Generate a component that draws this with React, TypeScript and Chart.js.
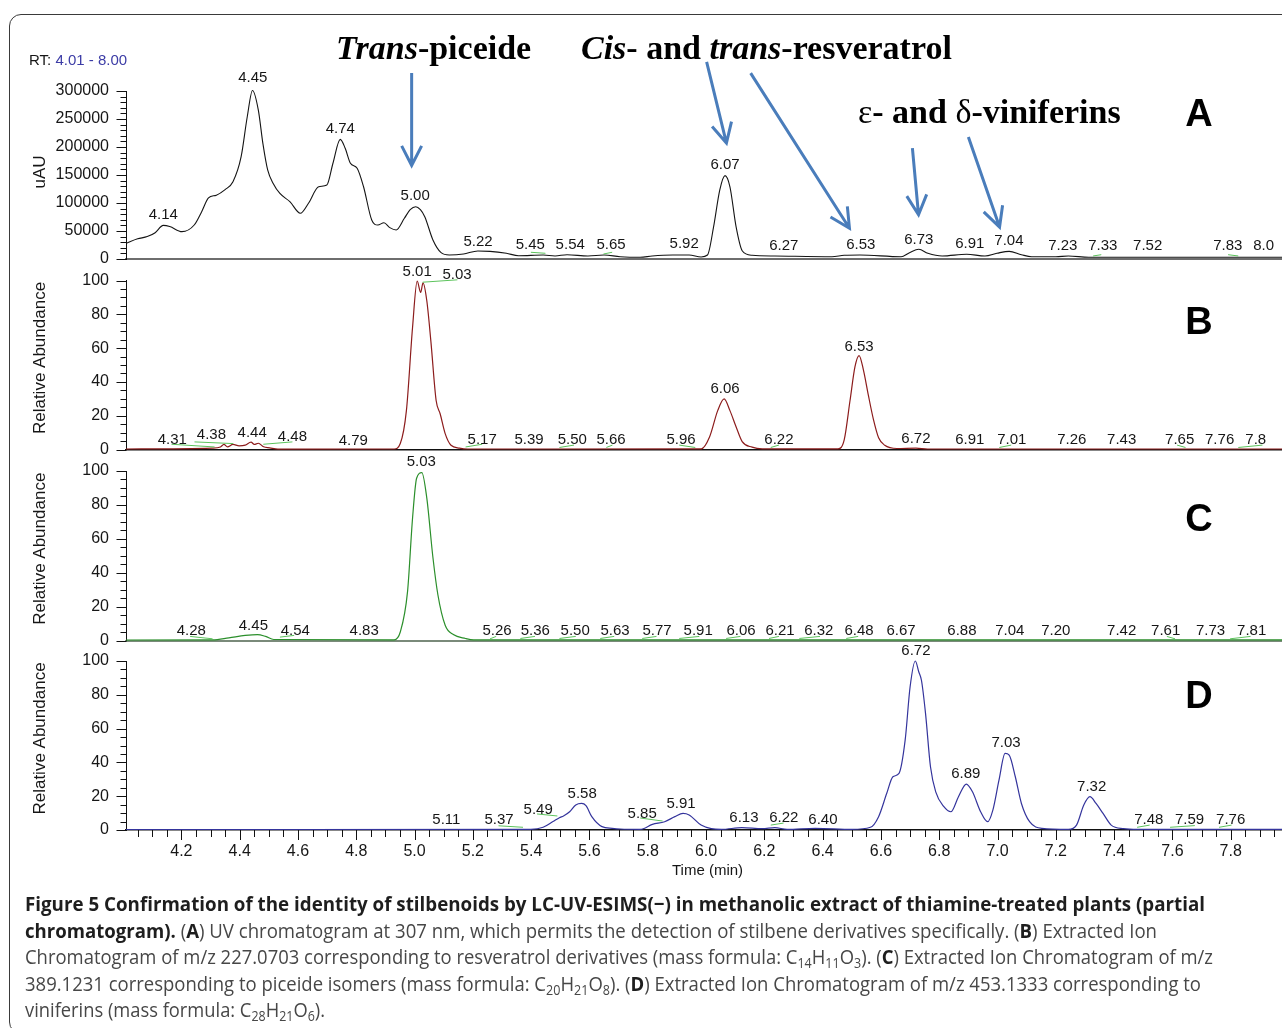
import React, { useEffect, useRef } from "react";
import { Chart, registerables } from "chart.js";

Chart.register(...registerables);

// ---------------- axis values ----------------
const RT_MIN = 4.01;
const RT_MAX = 8.0;
const X_TICK_VALUES = [4.2, 4.4, 4.6, 4.8, 5.0, 5.2, 5.4, 5.6, 5.8, 6.0, 6.2, 6.4, 6.6, 6.8, 7.0, 7.2, 7.4, 7.6, 7.8];
const Y_TICKS_UAU = [0, 50000, 100000, 150000, 200000, 250000, 300000];
const Y_TICKS_REL = [0, 20, 40, 60, 80, 100];

// ---------------- Panel A: UV chromatogram (uAU) ----------------
const A_TIME = [4.01, 4.05, 4.083, 4.11, 4.138, 4.16, 4.202, 4.244, 4.27, 4.293, 4.32, 4.35, 4.377, 4.405, 4.426, 4.444, 4.464, 4.48, 4.496, 4.515, 4.538, 4.573, 4.608, 4.636, 4.671, 4.699, 4.72, 4.745, 4.762, 4.78, 4.803, 4.825, 4.853, 4.874, 4.895, 4.915, 4.937, 4.965, 4.985, 5.004, 5.02, 5.035, 5.063, 5.091, 5.119, 5.168, 5.217, 5.259, 5.315, 5.357, 5.441, 5.482, 5.523, 5.595, 5.65, 5.705, 5.774, 5.815, 5.886, 5.942, 5.983, 6.005, 6.026, 6.047, 6.065, 6.082, 6.103, 6.124, 6.158, 6.236, 6.432, 6.474, 6.528, 6.669, 6.698, 6.73, 6.761, 6.81, 6.894, 6.957, 6.998, 7.04, 7.082, 7.117, 7.2, 7.243, 7.313, 8.0];
const A_UAU = [28000, 36000, 40000, 47000, 60000, 58000, 48800, 60700, 85000, 109000, 114000, 124000, 138000, 182700, 254000, 301000, 266000, 205000, 159000, 135000, 117000, 102000, 81600, 99500, 129000, 132000, 171000, 213700, 197700, 171000, 162000, 129000, 69600, 60700, 64800, 56000, 51800, 72700, 88000, 93400, 88000, 75500, 34000, 11300, 7100, 8900, 14300, 13700, 10200, 5900, 7100, 5400, 7700, 5400, 7100, 4100, 3000, 5400, 7100, 7100, 3600, 7100, 57700, 123000, 148800, 129000, 57700, 14800, 6600, 5400, 4100, 6600, 7100, 4100, 11300, 17300, 10200, 5400, 8400, 5400, 10200, 13700, 7700, 4100, 4100, 5400, 3000, 3000];
const A_PEAK_TEXT = ["4.14", "4.45", "4.74", "5.00", "5.22", "5.45", "5.54", "5.65", "5.92", "6.07", "6.27", "6.53", "6.73", "6.91", "7.04", "7.23", "7.33", "7.52", "7.83", "8.0"];
const A_PEAK_TIME = [4.138, 4.445, 4.745, 5.002, 5.218, 5.397, 5.534, 5.674, 5.925, 6.065, 6.267, 6.531, 6.73, 6.905, 7.039, 7.224, 7.361, 7.515, 7.79, 7.913];
const A_PEAK_LEVEL = [78600, 323300, 232200, 112500, 30400, 25000, 25000, 25000, 26800, 167900, 23200, 25000, 33900, 26800, 32100, 23200, 23200, 23200, 23200, 23200];
const A_MARKS = [[5.399, 12000, 5.449, 10200], [5.648, 8900, 5.678, 12000], [7.328, 5400, 7.356, 7700], [7.791, 7700, 7.826, 5400]];

// ---------------- Panel B: XIC m/z 227.0703 ----------------
const B_TIME = [4.01, 4.306, 4.334, 4.346, 4.358, 4.377, 4.398, 4.419, 4.439, 4.45, 4.464, 4.482, 4.503, 4.531, 4.93, 4.951, 4.972, 4.993, 5.009, 5.021, 5.029, 5.042, 5.056, 5.074, 5.088, 5.105, 5.125, 5.154, 5.182, 5.984, 6.012, 6.04, 6.062, 6.082, 6.103, 6.124, 6.158, 6.193, 6.453, 6.474, 6.494, 6.511, 6.525, 6.54, 6.557, 6.574, 6.592, 6.613, 6.655, 6.72, 6.76, 8.0];
const B_REL = [0.3, 0.8, 1.5, 3, 1.5, 3, 2.2, 2.6, 4.4, 3, 3.7, 1.6, 1, 0.2, 0.3, 3.5, 23, 72, 99.6, 93, 98.6, 88, 64, 29, 21, 9.4, 2.5, 0.8, 0.3, 0.4, 7.4, 23, 30, 23, 13.5, 4.7, 1.4, 0.4, 0.4, 5.7, 29, 49, 55.6, 47, 32, 18, 7, 2.5, 0.6, 0.8, 0.3, 0.3];
const B_PEAK_TEXT = ["4.31", "4.38", "4.44", "4.48", "4.79", "5.01", "5.03", "5.17", "5.39", "5.50", "5.66", "5.96", "6.06", "6.22", "6.53", "6.72", "6.91", "7.01", "7.26", "7.43", "7.65", "7.76", "7.8"];
const B_PEAK_TIME = [4.169, 4.303, 4.443, 4.581, 4.79, 5.009, 5.146, 5.232, 5.393, 5.541, 5.674, 5.914, 6.065, 6.25, 6.525, 6.72, 6.905, 7.049, 7.255, 7.426, 7.625, 7.762, 7.886];
const B_PEAK_LEVEL = [5.5, 8.4, 9.8, 7.4, 5.1, 104.9, 103.5, 5.9, 5.5, 5.5, 5.5, 5.5, 36, 5.5, 61, 6.1, 5.5, 5.5, 5.5, 5.5, 5.5, 5.5, 5.5];
const B_MARKS = [[4.166, 3.1, 4.314, 1.5], [4.245, 4.5, 4.378, 3.5], [4.481, 3.1, 4.581, 4.5], [5.028, 99, 5.147, 100.4], [5.175, 1.5, 5.232, 3.1], [5.497, 1.2, 5.547, 2.6], [5.658, 1.2, 5.679, 2.6], [5.908, 2.6, 5.963, 1.2], [6.222, 1.2, 6.25, 2.6], [7.006, 1.2, 7.047, 2.6], [7.616, 2.6, 7.645, 1.2], [7.826, 1.2, 7.909, 2.6]];

// ---------------- Panel C: XIC m/z 389.1231 ----------------
const C_TIME = [4.01, 4.307, 4.363, 4.419, 4.461, 4.489, 4.517, 4.93, 4.951, 4.976, 4.993, 5.007, 5.025, 5.042, 5.063, 5.08, 5.105, 5.133, 5.175, 5.203, 8.0];
const C_REL = [0.3, 0.4, 1.6, 3, 3.5, 2.4, 0.6, 0.4, 5, 29, 72, 95.7, 99, 84, 49, 27, 9, 3.5, 1.2, 0.4, 0.4];
const C_PEAK_TEXT = ["4.28", "4.45", "4.54", "4.83", "5.03", "5.26", "5.36", "5.50", "5.63", "5.77", "5.91", "6.06", "6.21", "6.32", "6.48", "6.67", "6.88", "7.04", "7.20", "7.42", "7.61", "7.73", "7.81"];
const C_PEAK_TIME = [4.234, 4.447, 4.591, 4.827, 5.023, 5.283, 5.414, 5.551, 5.688, 5.832, 5.973, 6.12, 6.254, 6.387, 6.525, 6.669, 6.878, 7.042, 7.2, 7.426, 7.577, 7.731, 7.872];
const C_PEAK_LEVEL = [5.5, 8.9, 5.5, 5.5, 105.3, 5.5, 5.5, 5.5, 5.5, 5.5, 5.5, 5.5, 5.5, 5.5, 5.5, 5.5, 5.5, 5.5, 5.5, 5.5, 5.5, 5.5, 5.5];
const C_MARKS = [[4.23, 2.4, 4.307, 1], [4.538, 2, 4.587, 3], [5.259, 1, 5.28, 2.4], [5.363, 1.2, 5.413, 2.4], [5.497, 1.2, 5.553, 2.4], [5.637, 1.2, 5.685, 2.4], [5.781, 1.2, 5.83, 2.4], [5.908, 1.2, 5.977, 2.4], [6.069, 1.2, 6.118, 2.4], [6.216, 1.2, 6.25, 2.4], [6.32, 1.2, 6.391, 2.4], [6.481, 1.2, 6.522, 2.4], [7.581, 2.4, 7.609, 1], [7.798, 1, 7.868, 2.4]];

// ---------------- Panel D: XIC m/z 453.1333 ----------------
const D_TIME = [4.01, 5.399, 5.441, 5.475, 5.497, 5.511, 5.532, 5.553, 5.573, 5.588, 5.608, 5.643, 5.678, 5.706, 5.774, 5.816, 5.858, 5.893, 5.921, 5.942, 5.983, 6.018, 6.053, 6.123, 6.193, 6.236, 6.278, 6.375, 6.501, 6.564, 6.592, 6.62, 6.641, 6.662, 6.683, 6.7, 6.718, 6.73, 6.739, 6.753, 6.77, 6.788, 6.816, 6.84, 6.866, 6.893, 6.914, 6.942, 6.966, 6.984, 7.005, 7.026, 7.04, 7.061, 7.082, 7.11, 7.152, 7.243, 7.271, 7.296, 7.317, 7.338, 7.362, 7.39, 7.432, 7.481, 8.0];
const D_REL = [0.3, 0.4, 1.6, 5, 7.3, 8.3, 10.8, 14.8, 15.7, 14.4, 7.9, 2, 1, 0.6, 0.4, 3.3, 4.9, 7.9, 9.8, 8.9, 2.9, 0.8, 0.4, 1.4, 0.8, 1.4, 0.4, 1, 0.4, 1.6, 7.9, 21.7, 31.5, 33.5, 53, 84.6, 100, 93.5, 88.6, 69, 37.4, 22.6, 13.8, 10.8, 19.7, 27.2, 22.6, 10.8, 4.9, 11.8, 29.5, 45.3, 44.3, 31.5, 15.7, 4.9, 1, 0.4, 2.9, 14.8, 19.7, 15.7, 9.8, 2.9, 0.8, 0.4, 0.4];
const D_PEAK_TEXT = ["5.11", "5.37", "5.49", "5.58", "5.85", "5.91", "6.13", "6.22", "6.40", "6.72", "6.89", "7.03", "7.32", "7.48", "7.59", "7.76"];
const D_PEAK_TIME = [5.109, 5.29, 5.424, 5.575, 5.781, 5.914, 6.13, 6.267, 6.401, 6.72, 6.891, 7.029, 7.323, 7.519, 7.659, 7.8];
const D_PEAK_LEVEL = [5.9, 5.9, 12.2, 21.3, 9.8, 15.4, 6.9, 6.9, 5.9, 105.9, 33.5, 51.6, 25.6, 5.9, 5.9, 5.9];
const D_MARKS = [[5.288, 2.5, 5.372, 1.6], [5.42, 9.5, 5.49, 8.3], [5.774, 7.1, 5.851, 5.3], [6.222, 2.9, 6.266, 4.1], [7.479, 1.6, 7.522, 2.9], [7.592, 1.6, 7.677, 2.6], [7.76, 1.6, 7.803, 2.9]];

// ---------------- annotation arrows on panel A (time, uAU) ----------------
const ARROW_FROM_TIME = [4.99, 6.002, 6.153, 6.708, 6.9];
const ARROW_FROM_UAU = [332000, 352000, 332000, 198000, 218000];
const ARROW_TO_TIME = [4.99, 6.07, 6.492, 6.729, 7.007];
const ARROW_TO_UAU = [167000, 207000, 55000, 79000, 57000];

// ---------------- layout ----------------
const CANVAS_W = 1330;
const PLOT_RIGHT = 1289;
const AXIS_W = 126;
const X_AXIS_H = 52;

const PANELS = [
  { key: "A", canvasTop: 0, canvasHeight: 285, areaTop: 91, areaBottom: 259, time: A_TIME, value: A_UAU, color: "#141414", width: 1.1, yMax: 300000, yTicks: Y_TICKS_UAU, yMinor: 10000, yTitle: "uAU", yTitleShift: -3, letter: "A", letterY: 116, peakText: A_PEAK_TEXT, peakTime: A_PEAK_TIME, peakLevel: A_PEAK_LEVEL, marks: A_MARKS, baseColor: "#6e6e6e", baseWidth: 2, showX: false, header: true },
  { key: "B", canvasTop: 250, canvasHeight: 225, areaTop: 280.5, areaBottom: 449.5, time: B_TIME, value: B_REL, color: "#8c1c1c", width: 1.2, yMax: 100, yTicks: Y_TICKS_REL, yMinor: 5, yTitle: "Relative Abundance", yTitleShift: -7, letter: "B", letterY: 324, peakText: B_PEAK_TEXT, peakTime: B_PEAK_TIME, peakLevel: B_PEAK_LEVEL, marks: B_MARKS, baseColor: "#111", baseWidth: 1.5, showX: false, header: false },
  { key: "C", canvasTop: 441, canvasHeight: 225, areaTop: 471, areaBottom: 640.5, time: C_TIME, value: C_REL, color: "#2b8f2b", width: 1.2, yMax: 100, yTicks: Y_TICKS_REL, yMinor: 5, yTitle: "Relative Abundance", yTitleShift: -7, letter: "C", letterY: 521, peakText: C_PEAK_TEXT, peakTime: C_PEAK_TIME, peakLevel: C_PEAK_LEVEL, marks: C_MARKS, baseColor: "#7a8a7a", baseWidth: 2, showX: false, header: false },
  { key: "D", canvasTop: 631, canvasHeight: 259, areaTop: 661, areaBottom: 830, time: D_TIME, value: D_REL, color: "#34349c", width: 1.2, yMax: 100, yTicks: Y_TICKS_REL, yMinor: 5, yTitle: "Relative Abundance", yTitleShift: -7, letter: "D", letterY: 698, peakText: D_PEAK_TEXT, peakTime: D_PEAK_TIME, peakLevel: D_PEAK_LEVEL, marks: D_MARKS, baseColor: "#111", baseWidth: 1.5, showX: true, header: false },
];

const SANS = '"Liberation Sans", Arial, Helvetica, sans-serif';
const SERIF = '"Liberation Serif", "Times New Roman", serif';

function drawRich(ctx: CanvasRenderingContext2D, x: number, y: number, parts: [string, string][]) {
  let cx = x;
  for (const [txt, font] of parts) {
    ctx.font = font;
    ctx.fillText(txt, cx, y);
    cx += ctx.measureText(txt).width;
  }
}

function decorPlugin(p: any) {
  return {
    id: "decor" + p.key,
    afterDraw(chart: any) {
      const ctx: CanvasRenderingContext2D = chart.ctx;
      const xs = chart.scales.x;
      const ys = chart.scales.y;
      const a = chart.chartArea;
      ctx.save();
      // y tick marks (major + minor)
      ctx.strokeStyle = "#111";
      ctx.lineWidth = 1;
      ctx.beginPath();
      const axisX = Math.round(a.left) + 0.5;
      const n = Math.round(p.yMax / p.yMinor);
      const every = Math.round((p.yTicks[1] - p.yTicks[0]) / p.yMinor);
      for (let i = 0; i <= n; i++) {
        const y = Math.round(ys.getPixelForValue(i * p.yMinor)) + 0.5;
        const len = i % every === 0 ? 10 : 6;
        ctx.moveTo(axisX - len, y);
        ctx.lineTo(axisX, y);
      }
      ctx.stroke();
      // x tick marks
      if (p.showX) {
        ctx.beginPath();
        for (let i = 81; i <= 159; i++) {
          const x = Math.round(xs.getPixelForValue(i * 0.05)) + 0.5;
          const len = i % 4 === 0 ? 10 : 7;
          ctx.moveTo(x, a.bottom);
          ctx.lineTo(x, a.bottom + len);
        }
        ctx.stroke();
      }
      // peak labels
      ctx.fillStyle = "#161616";
      ctx.font = "15px " + SANS;
      ctx.textAlign = "center";
      ctx.textBaseline = "middle";
      p.peakText.forEach((txt: string, i: number) => {
        ctx.fillText(txt, xs.getPixelForValue(p.peakTime[i]), ys.getPixelForValue(p.peakLevel[i]));
      });
      // y title
      ctx.save();
      ctx.translate(40, (a.top + a.bottom) / 2 + p.yTitleShift);
      ctx.rotate(-Math.PI / 2);
      ctx.font = "17px " + SANS;
      ctx.fillStyle = "#161616";
      ctx.fillText(p.yTitle, 0, 0);
      ctx.restore();
      // panel letter
      ctx.font = "bold 38px " + SANS;
      ctx.fillStyle = "#000";
      ctx.fillText(p.letter, 1199, p.letterY - p.canvasTop);
      if (p.header) {
        ctx.textAlign = "left";
        ctx.font = "15px " + SANS;
        ctx.fillStyle = "#161616";
        ctx.fillText("RT: ", 29, 61);
        const w = ctx.measureText("RT: ").width;
        ctx.fillStyle = "#3c3ca6";
        ctx.fillText(RT_MIN.toFixed(2) + " - " + RT_MAX.toFixed(2), 29 + w, 61);
        // annotation titles
        ctx.fillStyle = "#000";
        ctx.textBaseline = "alphabetic";
        const IB = "italic bold 34px " + SERIF;
        const B = "bold 34px " + SERIF;
        const R = "34px " + SERIF;
        drawRich(ctx, 336, 59, [["Trans", IB], ["-piceide", B]]);
        drawRich(ctx, 581, 59, [["Cis", IB], ["- and ", B], ["trans", IB], ["-resveratrol", B]]);
        drawRich(ctx, 858, 123, [["\u03b5", R], ["- and ", B], ["\u03b4", R], ["-viniferins", B]]);
        // arrows
        ctx.strokeStyle = "#4a7dbb";
        ctx.lineWidth = 3;
        ctx.lineCap = "butt";
        ctx.lineJoin = "miter";
        for (let i = 0; i < ARROW_FROM_TIME.length; i++) {
          const x1 = xs.getPixelForValue(ARROW_FROM_TIME[i]);
          const y1 = ys.getPixelForValue(ARROW_FROM_UAU[i]);
          const x2 = xs.getPixelForValue(ARROW_TO_TIME[i]);
          const y2 = ys.getPixelForValue(ARROW_TO_UAU[i]);
          const ang = Math.atan2(y1 - y2, x1 - x2);
          const th = (27 * Math.PI) / 180;
          const L = 22;
          ctx.beginPath();
          ctx.moveTo(x1, y1);
          ctx.lineTo(x2, y2);
          ctx.moveTo(x2 + L * Math.cos(ang + th), y2 + L * Math.sin(ang + th));
          ctx.lineTo(x2, y2);
          ctx.lineTo(x2 + L * Math.cos(ang - th), y2 + L * Math.sin(ang - th));
          ctx.stroke();
        }
      }
      ctx.restore();
    },
  };
}

function buildChart(canvas: HTMLCanvasElement, p: any) {
  const xH = p.showX ? X_AXIS_H : 0;
  const padTop = p.areaTop - p.canvasTop;
  const padBottom = p.canvasTop + p.canvasHeight - p.areaBottom - xH;
  const traceData = p.time.map((t: number, i: number) => ({ x: t, y: p.value[i] }));
  const markData: any[] = [];
  p.marks.forEach((m: number[]) => {
    markData.push({ x: m[0], y: m[1] });
    markData.push({ x: m[2], y: m[3] });
    markData.push({ x: m[2], y: null });
  });
  return new Chart(canvas, {
    type: "line",
    data: {
      datasets: [
        { data: markData, borderColor: "#5cc35c", borderWidth: 1, pointRadius: 0, spanGaps: false, tension: 0, clip: false as any, order: 0 },
        { data: traceData, borderColor: p.color, borderWidth: p.width, pointRadius: 0, cubicInterpolationMode: "monotone", fill: false, clip: false as any, order: 1 },
      ],
    },
    options: {
      animation: false,
      responsive: false,
      maintainAspectRatio: false,
      devicePixelRatio: 1,
      events: [],
      layout: { padding: { top: padTop, bottom: padBottom, left: 0, right: CANVAS_W - PLOT_RIGHT } },
      plugins: { legend: { display: false }, tooltip: { enabled: false } },
      scales: {
        x: {
          type: "linear",
          min: RT_MIN,
          max: RT_MAX,
          grid: { display: false, drawTicks: false },
          border: { display: true, color: p.baseColor, width: p.baseWidth },
          ticks: {
            display: p.showX,
            autoSkip: false,
            maxRotation: 0,
            minRotation: 0,
            padding: 12,
            color: "#161616",
            font: { family: SANS, size: 16 },
            callback: (v: any) => Number(v).toFixed(1),
          },
          title: {
            display: p.showX,
            text: "Time (min)",
            color: "#161616",
            font: { family: SANS, size: 15 },
            padding: { top: 0, bottom: 2 },
          },
          afterBuildTicks: (s: any) => {
            s.ticks = X_TICK_VALUES.map((v) => ({ value: v }));
          },
          afterFit: (s: any) => {
            s.height = xH;
            s.paddingLeft = 0;
            s.paddingRight = 0;
          },
        },
        y: {
          type: "linear",
          min: 0,
          max: p.yMax,
          grid: { display: false, drawTicks: false },
          border: { display: true, color: "#111", width: 1 },
          ticks: {
            padding: 17,
            color: "#161616",
            font: { family: SANS, size: 16 },
            callback: (v: any) => String(v),
          },
          afterBuildTicks: (s: any) => {
            s.ticks = p.yTicks.map((v: number) => ({ value: v }));
          },
          afterFit: (s: any) => {
            s.width = AXIS_W;
            s.paddingTop = 0;
            s.paddingBottom = 0;
          },
        },
      },
    } as any,
    plugins: [decorPlugin(p)],
  });
}

const CAPTION_WIDTHS = [1180, 1132, 1188, 1176, 300];
const subStyle: React.CSSProperties = { fontSize: "0.68em", lineHeight: 0, position: "relative", top: "0.32em", verticalAlign: "baseline" };

function Caption() {
  const refs = useRef<(HTMLSpanElement | null)[]>([]);
  useEffect(() => {
    const fit = () => {
      refs.current.forEach((el, i) => {
        if (!el) return;
        el.style.transform = "none";
        const w = el.getBoundingClientRect().width;
        if (w > 0) el.style.transform = `scaleX(${CAPTION_WIDTHS[i] / w})`;
      });
    };
    fit();
    const f: any = (document as any).fonts;
    if (f && f.ready) f.ready.then(fit);
  }, []);
  const B = (t: string) => <b style={{ fontWeight: 700, color: "#1e1e1e" }}>{t}</b>;
  const lines: React.ReactNode[] = [
    <>{B("Figure 5 Confirmation of the identity of stilbenoids by LC-UV-ESIMS(\u2212) in methanolic extract of thiamine-treated plants (partial")}</>,
    <>{B("chromatogram).")} ({B("A")}) UV chromatogram at 307 nm, which permits the detection of stilbene derivatives specifically. ({B("B")}) Extracted Ion</>,
    <>Chromatogram of m/z 227.0703 corresponding to resveratrol derivatives (mass formula: C<sub style={subStyle}>14</sub>H<sub style={subStyle}>11</sub>O<sub style={subStyle}>3</sub>). ({B("C")}) Extracted Ion Chromatogram of m/z</>,
    <>389.1231 corresponding to piceide isomers (mass formula: C<sub style={subStyle}>20</sub>H<sub style={subStyle}>21</sub>O<sub style={subStyle}>8</sub>). ({B("D")}) Extracted Ion Chromatogram of m/z 453.1333 corresponding to</>,
    <>viniferins (mass formula: C<sub style={subStyle}>28</sub>H<sub style={subStyle}>21</sub>O<sub style={subStyle}>6</sub>).</>,
  ];
  return (
    <div style={{ position: "absolute", left: 25, top: 891, fontFamily: '"Open Sans", "Noto Sans", sans-serif', fontSize: 20, color: "#474747" }}>
      {lines.map((ln, i) => (
        <div key={i} style={{ height: 26.5, lineHeight: "26.5px", whiteSpace: "nowrap" }}>
          <span ref={(el) => { refs.current[i] = el; }} style={{ display: "inline-block", transformOrigin: "0 50%" }}>
            {ln}
          </span>
        </div>
      ))}
    </div>
  );
}

export default function App() {
  const r0 = useRef<HTMLCanvasElement>(null);
  const r1 = useRef<HTMLCanvasElement>(null);
  const r2 = useRef<HTMLCanvasElement>(null);
  const r3 = useRef<HTMLCanvasElement>(null);
  const refs = [r0, r1, r2, r3];
  useEffect(() => {
    const charts = PANELS.map((p, i) => buildChart(refs[i].current as HTMLCanvasElement, p));
    return () => charts.forEach((c) => c.destroy());
  }, []);
  return (
    <div style={{ position: "fixed", left: 0, top: 0, width: 1282, height: 1028, overflow: "hidden", background: "#fff" }}>
      <div style={{ position: "absolute", left: 9, top: 14, width: 1320, height: 1020, border: "1.5px solid #3a3a3a", borderRadius: 12, boxSizing: "border-box" }} />
      {PANELS.map((p, i) => (
        <canvas
          key={p.key}
          ref={refs[i]}
          width={CANVAS_W}
          height={p.canvasHeight}
          style={{ position: "absolute", left: 0, top: p.canvasTop, width: CANVAS_W, height: p.canvasHeight }}
        />
      ))}
      <Caption />
    </div>
  );
}
